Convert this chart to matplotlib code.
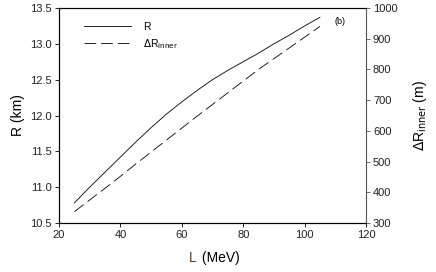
import numpy as np
import matplotlib.pyplot as plt

plt.rcParams['font.family'] = ['Liberation Sans', 'DejaVu Sans']

L = np.array([25, 30, 35, 40, 45, 50, 55, 60, 65, 70, 75, 80, 85, 90, 95, 100, 105])
R = np.array([10.78, 11.00, 11.21, 11.42, 11.63, 11.83, 12.02, 12.19, 12.35,
              12.50, 12.63, 12.75, 12.87, 13.00, 13.12, 13.25, 13.37])
dR = np.array([337, 375, 413, 452, 492, 531, 570, 609, 648,
               686, 724, 762, 800, 835, 870, 905, 940])

fig = plt.figure(figsize=(4.36, 2.72), dpi=100)
ax = fig.add_axes([59/436, 1-223/272, (366-59)/436, (223-8)/272])
ax2 = ax.twinx()

l1, = ax.plot(L, R, color='black', lw=0.6, label='R')
l2, = ax2.plot(L, dR, color='black', lw=0.6, dashes=(14, 6), label=r'$\Delta$R$_{\rm inner}$')

ax.set_xlim(20, 120)
ax.set_ylim(10.5, 13.5)
ax2.set_ylim(300, 1000)
ax.set_xticks([20, 40, 60, 80, 100, 120])
ax.set_yticks(np.arange(10.5, 13.51, 0.5))
ax.yaxis.set_major_formatter(plt.FormatStrFormatter('%.1f'))
ax2.set_yticks(np.arange(300, 1001, 100))

for a in (ax, ax2):
    a.tick_params(labelsize=8, length=3, width=0.6, direction='out', pad=2, labelcolor='#222222')
ax.spines['left'].set_color('black')
ax.spines['bottom'].set_color('black')
ax.spines['top'].set_color('#555555')
ax.spines['right'].set_visible(False)
ax2.spines['right'].set_color('#555555')
for s in ax2.spines.values():
    s.set_linewidth(0.8)
for s in ax.spines.values():
    s.set_linewidth(0.8)
ax2.tick_params(color='#555555')

ax.set_ylabel('R (km)', fontsize=10, labelpad=4)
ax2.set_ylabel(r'$\Delta$R$_{\rm inner}$ (m)', fontsize=10, labelpad=10)
# x label: only the "L" is brown
ax.text(0.448, -0.165, 'L', transform=ax.transAxes, fontsize=10,
        color='#5a3e1c', ha='right', va='center')
ax.text(0.452, -0.165, ' (MeV)', transform=ax.transAxes, fontsize=10,
        color='black', ha='left', va='center')

ax.text(0.915, 0.935, '(b)', transform=ax.transAxes, fontsize=6.5, ha='center', va='center')
ax.legend([l1, l2], ['R', r'$\Delta$R$_{\rm inner}$'], loc='upper left',
          bbox_to_anchor=(0.05, 0.98), frameon=False, fontsize=7.5,
          handlelength=4.5, handletextpad=1.2, labelspacing=0.5)

fig.savefig('out.png', dpi=100)
